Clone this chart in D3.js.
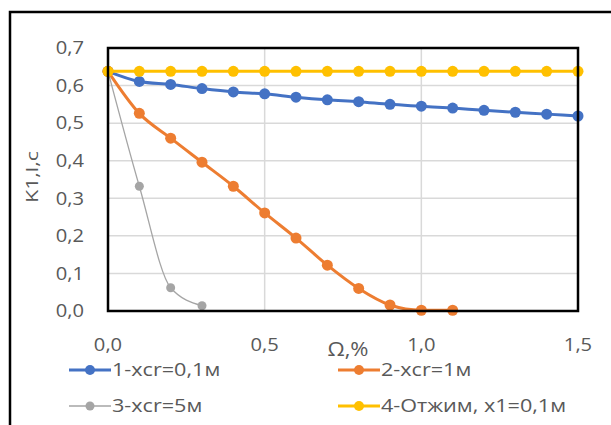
<!DOCTYPE html>
<html>
<head>
<meta charset="utf-8">
<script src="https://cdn.jsdelivr.net/npm/d3@7"></script>
<style>
  body { margin: 0; background: #fff; }
  text { font-family: "Open Sans", "Noto Sans", sans-serif; fill: #595959; }
</style>
</head>
<body>
<div id="chart"></div>
<script>
// values
const omega = [0, 0.1, 0.2, 0.3, 0.4, 0.5, 0.6, 0.7, 0.8, 0.9, 1.0, 1.1, 1.2, 1.3, 1.4, 1.5];
const series1 = [0.638, 0.611, 0.603, 0.592, 0.583, 0.578, 0.569, 0.562, 0.557, 0.550, 0.545, 0.540, 0.534, 0.529, 0.524, 0.519];
const series2 = [0.638, 0.526, 0.460, 0.396, 0.332, 0.261, 0.194, 0.122, 0.060, 0.016, 0.002, 0.002];
const series3 = [0.638, 0.332, 0.062, 0.014];
const series4 = [0.638, 0.638, 0.638, 0.638, 0.638, 0.638, 0.638, 0.638, 0.638, 0.638, 0.638, 0.638, 0.638, 0.638, 0.638, 0.638];
const seriesNames = ["1-xcr=0,1м", "2-xcr=1м", "3-xcr=5м", "4-Отжим, x1=0,1м"];
const xTicks = [0, 0.5, 1.0, 1.5];
const yTicks = [0, 0.1, 0.2, 0.3, 0.4, 0.5, 0.6, 0.7];

const colors = ["#4472C4", "#ED7D31", "#A5A5A5", "#FFC000"];
const allSeries = [series1, series2, series3, series4];

const width = 611, height = 425;
const margin = { top: 48, right: 33, bottom: 114, left: 108 };
const w = width - margin.left - margin.right;
const h = height - margin.top - margin.bottom;

const svg = d3.select("#chart").append("svg")
    .attr("width", width)
    .attr("height", height);

// outer frame (cut off at right and bottom)
svg.append("rect")
    .attr("x", 10).attr("y", 12)
    .attr("width", 700).attr("height", 500)
    .attr("fill", "none")
    .attr("stroke", "#000")
    .attr("stroke-width", 2.5);

const g = svg.append("g")
    .attr("transform", "translate(" + margin.left + "," + margin.top + ")");

const x = d3.scaleLinear().domain([0, 1.5]).range([0, w]);
const y = d3.scaleLinear().domain([0, 0.7]).range([h, 0]);

// gridlines
g.append("g")
    .selectAll("line")
    .data(yTicks)
    .enter().append("line")
    .attr("x1", 0).attr("x2", w)
    .attr("y1", d => y(d)).attr("y2", d => y(d))
    .attr("stroke", "#d9d9d9")
    .attr("stroke-width", 1.5);

g.append("g")
    .selectAll("line")
    .data(xTicks)
    .enter().append("line")
    .attr("y1", 0).attr("y2", h)
    .attr("x1", d => x(d)).attr("x2", d => x(d))
    .attr("stroke", "#d9d9d9")
    .attr("stroke-width", 1.5);

// tick labels, slightly stretched like the picture
const fmt = d => d3.format(".1f")(d).replace(".", ",");
const stretch = 1.12;

g.append("g")
    .selectAll("text")
    .data(yTicks)
    .enter().append("text")
    .attr("transform", d => "translate(-24," + y(d) + ") scale(" + stretch + ",1)")
    .attr("dy", "0.35em")
    .attr("text-anchor", "end")
    .style("font-size", "18px")
    .text(fmt);

g.append("g")
    .selectAll("text")
    .data(xTicks)
    .enter().append("text")
    .attr("transform", d => "translate(" + x(d) + "," + (h + 40) + ") scale(" + stretch + ",1)")
    .attr("text-anchor", "middle")
    .style("font-size", "18px")
    .text(fmt);

// axis titles
svg.append("text")
    .attr("transform", "translate(348,356) scale(1.1,1)")
    .attr("text-anchor", "middle")
    .style("font-size", "20px")
    .text("Ω,%");

svg.append("text")
    .attr("transform", "translate(38,177) rotate(-90) scale(1.25,1)")
    .attr("text-anchor", "middle")
    .style("font-size", "17px")
    .text("K1,l,c");

// series lines and markers
const line = d3.line()
    .x((d, i) => x(omega[i]))
    .y(d => y(d))
    .curve(d3.curveMonotoneX);

allSeries.forEach((s, k) => {
    const thin = k === 2;
    g.append("path")
        .datum(s)
        .attr("d", line)
        .attr("fill", "none")
        .attr("stroke", colors[k])
        .attr("stroke-width", thin ? 1.3 : 3);

    g.selectAll(".pt" + k)
        .data(s)
        .enter().append("circle")
        .attr("class", "pt" + k)
        .attr("cx", (d, i) => x(omega[i]))
        .attr("cy", d => y(d))
        .attr("r", thin ? 4.5 : 5.5)
        .attr("fill", colors[k]);
});

// plot border
g.append("rect")
    .attr("x", 0).attr("y", 0)
    .attr("width", w).attr("height", h)
    .attr("fill", "none")
    .attr("stroke", "#000")
    .attr("stroke-width", 2.5);

// legend
const legendPos = [[69, 370], [338, 370], [69, 406], [338, 406]];
seriesNames.forEach((name, k) => {
    const [lx, ly] = legendPos[k];
    const thin = k === 2;
    svg.append("line")
        .attr("x1", lx).attr("x2", lx + 42)
        .attr("y1", ly).attr("y2", ly)
        .attr("stroke", colors[k])
        .attr("stroke-width", thin ? 1.3 : 3);
    svg.append("circle")
        .attr("cx", lx + 21).attr("cy", ly)
        .attr("r", thin ? 4.5 : 5)
        .attr("fill", colors[k]);
    svg.append("text")
        .attr("transform", "translate(" + (lx + 43) + "," + ly + ") scale(1.2,1)")
        .attr("dy", "0.35em")
        .style("font-size", "18px")
        .text(name);
});
</script>
</body>
</html>
